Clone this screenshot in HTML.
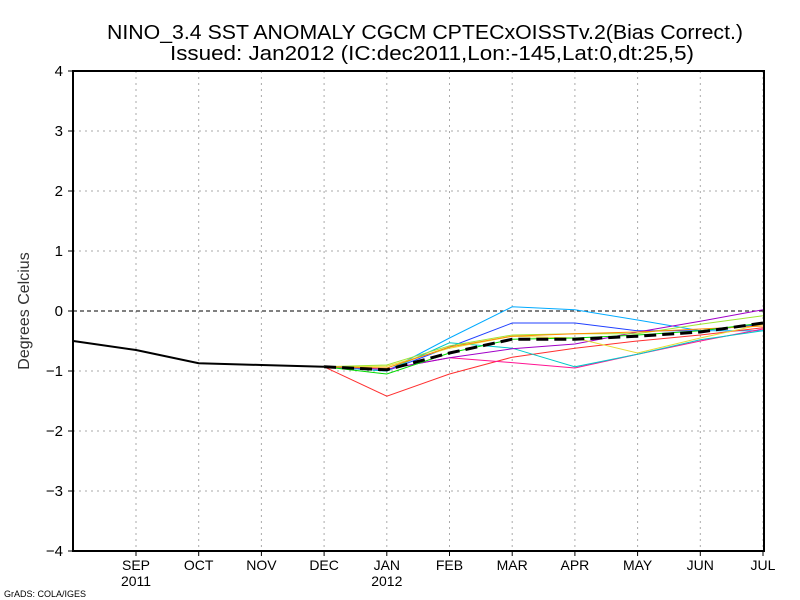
<!DOCTYPE html>
<html><head><meta charset="utf-8"><style>
body{margin:0;background:#fff}
svg{display:block;font-family:"Liberation Sans",sans-serif}
</style></head><body>
<svg id="chart" width="800" height="600"></svg>
<script>
const months=["AUG","SEP","OCT","NOV","DEC","JAN","FEB","MAR","APR","MAY","JUN","JUL"];
const yTicks=[-4,-3,-2,-1,0,1,2,3,4];
const observed=[-0.5,-0.65,-0.87,-0.9,-0.93];
const ensembleMean=[-0.93,-0.98,-0.7,-0.47,-0.47,-0.42,-0.35,-0.2];
const memLightBlue=[-0.93,-1.0,-0.45,0.07,0.02,-0.15,-0.33,-0.33];
const memBlue=[-0.93,-1.0,-0.6,-0.2,-0.2,-0.33,-0.33,-0.22];
const memRed=[-0.93,-1.42,-1.05,-0.77,-0.62,-0.5,-0.4,-0.28];
const memPink=[-0.93,-0.97,-0.78,-0.86,-0.95,-0.72,-0.5,-0.3];
const memCyan=[-0.93,-1.0,-0.53,-0.62,-0.93,-0.72,-0.48,-0.33];
const memPurple=[-0.93,-0.97,-0.78,-0.63,-0.55,-0.35,-0.17,0.02];
const memYellow=[-0.93,-0.92,-0.62,-0.42,-0.45,-0.7,-0.45,-0.22];
const memLightGreen=[-0.93,-0.9,-0.58,-0.4,-0.38,-0.38,-0.22,-0.08];
const memOrange=[-0.93,-0.95,-0.6,-0.42,-0.38,-0.35,-0.3,-0.25];
const memGreen=[-0.93,-1.05,-0.7,-0.47,-0.45,-0.4,-0.33,-0.2];
const members=[["member-light-blue","#00aaff",memLightBlue],["member-blue","#2040ff",memBlue],["member-red","#ff3030",memRed],["member-pink","#ff1493",memPink],["member-cyan","#00c8c8",memCyan],["member-purple","#a000c8",memPurple],["member-yellow","#e6dc32",memYellow],["member-light-green","#a0e632",memLightGreen],["member-orange","#ff8c00",memOrange],["member-green","#00dc00",memGreen]];
const L=73,R=764,T=71,B=551;
const x=i=>73.3+i*62.7, y=v=>311-v*60;
const svg=document.getElementById('chart');
const NS="http://www.w3.org/2000/svg";
function mk(tag,attrs,text){const e=document.createElementNS(NS,tag);for(const k in attrs)e.setAttribute(k,attrs[k]);if(text!==undefined)e.textContent=text;svg.appendChild(e);return e;}
let e;
e=mk('text',{x:107,y:39,'font-size':20,textLength:636,lengthAdjust:'spacingAndGlyphs'},'NINO_3.4 SST ANOMALY CGCM CPTECxOISSTv.2(Bias Correct.)');

e=mk('text',{x:170,y:60,'font-size':20,textLength:524,lengthAdjust:'spacingAndGlyphs'},'Issued:  Jan2012 (IC:dec2011,Lon:-145,Lat:0,dt:25,5)');

for(let i=1;i<months.length;i++){
 e=mk('line',{x1:x(i),x2:x(i),y1:T,y2:B,stroke:'#aaa','stroke-dasharray':'2,4'});
 
 e=mk('line',{x1:x(i),x2:x(i),y1:B,y2:B+5,stroke:'#000'});
 
 e=mk('text',{x:x(i),y:B+19,'text-anchor':'middle','font-size':14},months[i]);
 
}
e=mk('text',{x:x(1),y:B+35,'text-anchor':'middle','font-size':14},'2011');

e=mk('text',{x:x(5),y:B+35,'text-anchor':'middle','font-size':14},'2012');

yTicks.forEach(v=>{
 if(v!==0&&v!==-4&&v!==4){e=mk('line',{x1:L,x2:R,y1:y(v),y2:y(v),stroke:'#aaa','stroke-dasharray':'2,4'});
 }
 e=mk('line',{x1:L-5,x2:L,y1:y(v),y2:y(v),stroke:'#000'});
 
 e=mk('text',{x:L-10,y:y(v)+5,'text-anchor':'end','font-size':15},v<0?'\u2212'+(-v):String(v));
 
});
e=mk('line',{x1:L,x2:R,y1:y(0),y2:y(0),stroke:'#000','stroke-dasharray':'4,3'});

e=mk('text',{x:0,y:0,'text-anchor':'middle','font-size':16,fill:'#333',transform:'translate(29,311) rotate(-90)'},'Degrees Celcius');

members.forEach(m=>{
 const pts=m[2].map((v,i)=>x(i+4)+','+y(v)).join(' ');
 e=mk('polyline',{points:pts,fill:'none',stroke:m[1],'stroke-width':1});
 
});
e=mk('polyline',{points:ensembleMean.map((v,i)=>x(i+4)+','+y(v)).join(' '),fill:'none',stroke:'#000','stroke-width':3,'stroke-dasharray':'12,6'});

e=mk('polyline',{points:observed.map((v,i)=>Math.max(x(i),L)+','+y(v)).join(' '),fill:'none',stroke:'#000','stroke-width':2});

e=mk('rect',{x:L,y:T,width:R-L,height:B-T,fill:'none',stroke:'#000','stroke-width':2});

e=mk('text',{x:4,y:597,'font-size':9},'GrADS: COLA/IGES');

</script>
</body></html>
